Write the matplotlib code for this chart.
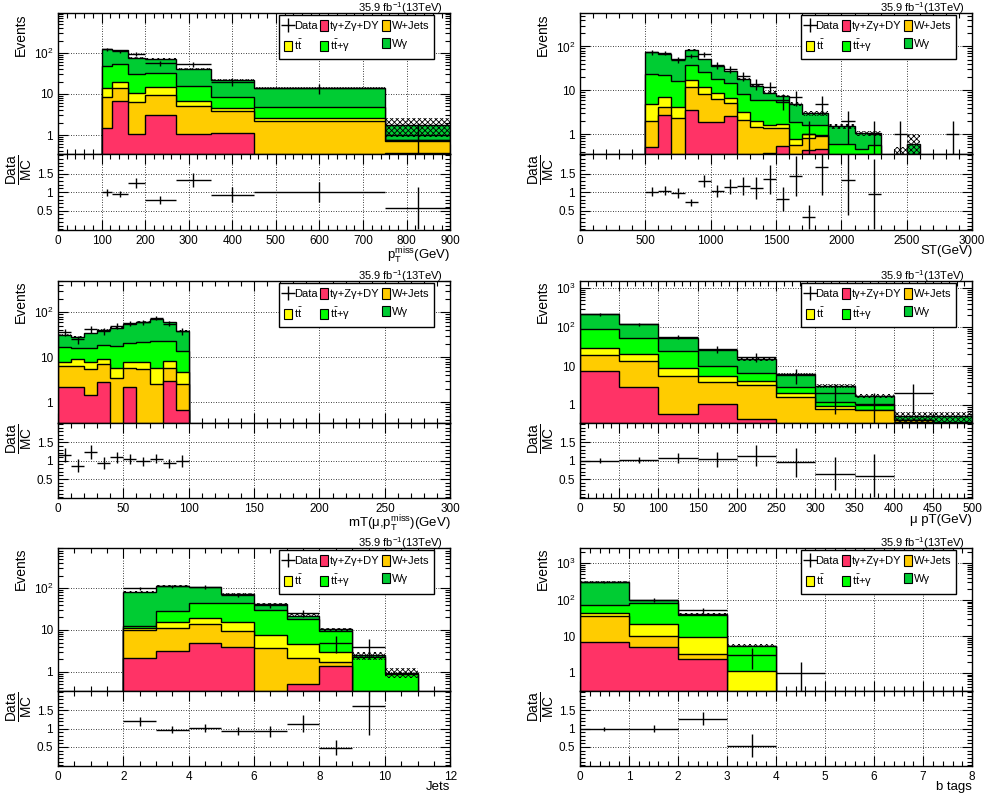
import numpy as np
import matplotlib
matplotlib.use('Agg')
import matplotlib.pyplot as plt
from matplotlib.lines import Line2D
from matplotlib.patches import Patch
from matplotlib.ticker import MultipleLocator, FixedLocator, FuncFormatter, LogLocator, NullFormatter

plt.rcParams['font.family'] = ['Liberation Sans', 'DejaVu Sans']
plt.rcParams['mathtext.fontset'] = 'custom'
plt.rcParams['mathtext.rm'] = 'Liberation Sans'
plt.rcParams['mathtext.it'] = 'Liberation Sans:italic'
plt.rcParams['mathtext.bf'] = 'Liberation Sans:bold'
plt.rcParams['hatch.linewidth'] = 0.6

# process order: bottom of stack first
proc_names = ['tγ+Zγ+DY', 'W+Jets', 't$\\bar{\\rm t}$', 't$\\bar{\\rm t}$+γ', 'Wγ']
proc_colors = ['#ff3366', '#ffcc00', '#ffff00', '#00ff00', '#00cc33']

# ---- pT miss
met_edges = [100, 125, 160, 200, 270, 350, 450, 750, 900]
met_dy = [1.5, 6.7, 1.05, 3.05, 1.05, 1.1, 0, 0.37]
met_wjets = [7.0, 7.5, 5.2, 6.5, 4.0, 2.7, 2.15, 0.36]
met_tt = [5.7, 5.5, 4.6, 5.5, 1.6, 0.7, 0.4, 0.01]
met_ttg = [33, 34, 19.5, 17, 9.4, 3.9, 2.2, 0.02]
met_wg = [77, 62, 44.7, 40, 24, 13, 9.3, 1.0]
met_data = [124, 110, 94, 57, 53, 20, 14, 1]
met_unc = [3, 3, 2.5, 2.5, 2, 1.2, 0.6, 0.85]

# ---- ST
st_edges = np.arange(500, 3100, 100)
st_dy = [0.52, 2.7, 0, 3.6, 1.85, 1.85, 2.6, 0, 0, 0.38, 0.54, 0, 0.44, 0.47,
         0, 0, 0, 0, 0, 0, 0, 0, 0, 0, 0]
st_wjets = [1.43, 1.5, 2.3, 8.6, 6.35, 4.65, 2.5, 2.1, 1.47, 0.97, 0.86, 0.57, 0.36, 0.42,
            0, 0, 0, 0, 0, 0, 0, 0, 0, 0, 0]
st_tt = [2.85, 2.9, 1.8, 5.2, 3.4, 2.1, 1.5, 1.1, 0.48, 0.28, 0.3, 0.2, 0.2, 0.08,
         0, 0, 0, 0, 0, 0, 0, 0, 0, 0, 0]
st_ttg = [19.2, 14.9, 12.4, 20.6, 13.9, 9.4, 7.7, 5.0, 4.05, 4.37, 3.6, 1.13, 0.66, 0.69,
          0.59, 0.59, 0.47, 0.56, 0, 0, 0, 0, 0, 0, 0]
st_wg = [49, 46, 34.5, 46, 25.5, 18, 12.7, 9.8, 6.6, 2.9, 2.1, 3.0, 1.34, 1.34,
         0.91, 0.91, 0.58, 0.49, 0, 0.3, 0.6, 0, 0, 0, 0]
st_data = [74, 71, 50, 61, 67, 37, 31, 21, 14, 12, 6, 7, 1, 5,
           0, 2, 0, 1, 0, 1, 0, 0, 0, 1, 0]
st_unc = [2.5, 2.5, 2, 3, 2, 1.5, 1.2, 0.8, 0.6, 0.5, 0.5, 0.4, 0.35, 0.35,
          0.2, 0.2, 0.15, 0.15, 0, 0.2, 0.4, 0, 0, 0, 0]

# ---- mT
mt_edges = np.arange(0, 110, 10)
mt_dy = [2.23, 2.15, 1.43, 2.78, 0, 2.15, 0, 0, 2.9, 0.67]
mt_wjets = [4.17, 4.25, 3.97, 4.32, 3.5, 3.65, 5.5, 2.6, 3.0, 1.83]
mt_tt = [1.6, 2.6, 2.6, 1.9, 2.2, 2.2, 2.5, 3.3, 2.4, 2.1]
mt_ttg = [8.7, 7.1, 8.0, 10.1, 12.2, 12.5, 13.5, 17.6, 15.2, 9.2]
mt_wg = [14.6, 12.7, 18, 21.4, 27.7, 33.5, 40.5, 47.5, 36.5, 24.7]
mt_data = [36, 25, 42, 38, 50, 57, 61, 75, 56, 38]
mt_unc = [1.5, 1.5, 1.5, 1.5, 1.5, 2, 2, 2, 2, 1.5]

# ---- muon pT
mupt_edges = np.arange(0, 550, 50)
mupt_dy = [7.5, 2.85, 0.575, 1.04, 0.43, 0, 0, 0, 0.37, 0]
mupt_wjets = [11.8, 10.95, 5.1, 2.96, 2.87, 1.64, 0.77, 0.74, 0.03, 0]
mupt_tt = [9.3, 6.2, 3.4, 1.6, 0.8, 0.36, 0.17, 0, 0, 0]
mupt_ttg = [59.4, 32, 15.3, 4.7, 2.4, 0.85, 0.23, 0.3, 0, 0.37]
mupt_wg = [126, 66, 27.6, 15.7, 8.4, 3.45, 1.93, 0.66, 0.12, 0.15]
mupt_data = [214, 120, 56, 27, 17, 6, 2, 1, 2, 0]
mupt_unc = [5, 3, 2, 1.2, 1.0, 0.5, 0.3, 0.2, 0.15, 0.15]

# ---- jets
jets_edges = np.arange(2, 12, 1)
jets_dy = [2.1, 3.2, 4.8, 4.0, 0, 0.52, 1.4, 0, 0]
jets_wjets = [7.9, 7.8, 8.9, 5.6, 3.6, 1.58, 0.3, 0, 0]
jets_tt = [1.0, 4.3, 5.3, 6.2, 3.8, 2.5, 1.2, 0, 0]
jets_ttg = [1.5, 13.3, 24.7, 29.2, 22.6, 13.8, 6.6, 2.3, 0.88]
jets_wg = [70.5, 85.4, 62.3, 28, 12, 3.6, 0.8, 0.15, 0.07]
jets_data = [100, 111, 108, 69, 39, 25, 5, 4, 0]
jets_unc = [3, 3, 3, 2.5, 2, 1.5, 0.8, 0.5, 0.25]

# ---- b tags
btag_edges = np.arange(0, 6, 1)
btag_dy = [7.1, 5.0, 2.37, 0, 0]
btag_wjets = [28.9, 5.1, 0.88, 0, 0]
btag_tt = [6.5, 11.6, 6.45, 1.13, 0]
btag_ttg = [29.5, 58.3, 28.6, 4.27, 0]
btag_wg = [244, 19, 2.7, 0.2, 0]
btag_data = [316, 99, 52, 3, 1]
btag_unc = [6, 3, 2, 0.4, 0]

panels = [
    dict(edges=met_edges, comps=[met_dy, met_wjets, met_tt, met_ttg, met_wg], data=met_data, unc=met_unc,
         xlim=(0, 900), ylim=(0.345, 940), xmaj=100, xmin=20, xlabel=r'$\mathrm{p_{T}^{miss}}$(GeV)'),
    dict(edges=st_edges, comps=[st_dy, st_wjets, st_tt, st_ttg, st_wg], data=st_data, unc=st_unc,
         xlim=(0, 3000), ylim=(0.353, 578), xmaj=500, xmin=100, xlabel='ST(GeV)'),
    dict(edges=mt_edges, comps=[mt_dy, mt_wjets, mt_tt, mt_ttg, mt_wg], data=mt_data, unc=mt_unc,
         xlim=(0, 300), ylim=(0.344, 500), xmaj=50, xmin=10, xlabel=r'mT(μ,$\mathrm{p_{T}^{miss}}$)(GeV)'),
    dict(edges=mupt_edges, comps=[mupt_dy, mupt_wjets, mupt_tt, mupt_ttg, mupt_wg], data=mupt_data, unc=mupt_unc,
         xlim=(0, 500), ylim=(0.344, 1540), xmaj=50, xmin=10, xlabel='μ pT(GeV)'),
    dict(edges=jets_edges, comps=[jets_dy, jets_wjets, jets_tt, jets_ttg, jets_wg], data=jets_data, unc=jets_unc,
         xlim=(0, 12), ylim=(0.344, 925), xmaj=2, xmin=0.5, xlabel='Jets'),
    dict(edges=btag_edges, comps=[btag_dy, btag_wjets, btag_tt, btag_ttg, btag_wg], data=btag_data, unc=btag_unc,
         xlim=(0, 8), ylim=(0.32, 2630), xmaj=1, xmin=0.2, xlabel='b tags'),
]

col_left = [0.0587, 0.587]
col_w = 0.397
rows = [((0.807, 0.1767), (0.7118, 0.0952)),
        ((0.4699, 0.178), (0.3759, 0.094)),
        ((0.1341, 0.1792), (0.0401, 0.094))]

log_labels = {1: '1', 10: '10', 100: '$10^{2}$', 1000: '$10^{3}$'}


def style(ax):
    ax.tick_params(which='both', direction='in', top=True, right=True, labelsize=8.5)
    ax.tick_params(which='major', length=7, width=0.8)
    ax.tick_params(which='minor', length=3.5, width=0.8)
    ax.grid(True, which='major', color='k', ls=(0, (1, 2)), lw=0.6)
    ax.set_axisbelow(True)
    for s in ax.spines.values():
        s.set_linewidth(1.0)


fig = plt.figure(figsize=(9.88, 7.98), dpi=100)

for k, p in enumerate(panels):
    (mb, mh), (rb, rh) = rows[k // 2]
    left = col_left[k % 2]
    ax = fig.add_axes([left, mb, col_w, mh])
    axr = fig.add_axes([left, rb, col_w, rh])

    edges = np.asarray(p['edges'], dtype=float)
    stack = np.cumsum(np.array(p['comps'], dtype=float), axis=0)
    total = stack[-1]
    data = np.asarray(p['data'], dtype=float)
    unc = np.asarray(p['unc'], dtype=float)
    centers = 0.5 * (edges[:-1] + edges[1:])
    half = 0.5 * np.diff(edges)

    ax.set_yscale('log')
    for i in reversed(range(len(stack))):
        ax.stairs(np.maximum(stack[i], 1e-3), edges, baseline=1e-3, fill=True,
                  facecolor=proc_colors[i], edgecolor='k', lw=1.0, zorder=1)
    has = unc > 0
    ax.stairs(np.where(has, total + unc, 1e-3), edges,
              baseline=np.where(has, np.maximum(total - unc, 1e-3), 1e-3),
              fill=True, facecolor='none', edgecolor='k', hatch='xxxxxx', lw=0, zorder=2)

    m = data > 0
    lo = np.minimum(np.sqrt(data[m]), data[m] - 1e-3)
    ax.errorbar(centers[m], data[m], xerr=half[m], yerr=[lo, np.sqrt(data[m])],
                fmt='none', ecolor='k', elinewidth=1.0, capsize=0, zorder=4)

    ax.set_xlim(*p['xlim'])
    ax.set_ylim(*p['ylim'])
    style(ax)
    ax.xaxis.set_major_locator(MultipleLocator(p['xmaj']))
    ax.xaxis.set_minor_locator(MultipleLocator(p['xmin']))
    ax.yaxis.set_major_locator(FixedLocator([1, 10, 100, 1000]))
    ax.yaxis.set_major_formatter(FuncFormatter(lambda v, pos: log_labels.get(int(round(v)), '')))
    ax.yaxis.set_minor_locator(LogLocator(base=10, subs=np.arange(2, 10)))
    ax.yaxis.set_minor_formatter(NullFormatter())
    ax.tick_params(labelbottom=False)
    ax.set_ylabel('Events', loc='top', fontsize=10, labelpad=4)
    ax.text(0.98, 1.01, '35.9 fb$^{-1}$(13TeV)', transform=ax.transAxes,
            ha='right', va='baseline', fontsize=8)

    handles = [Line2D([0], [0], color='k', marker='+', ls='none', markersize=10, mew=1.0),
               Patch(facecolor=proc_colors[2], edgecolor='k', lw=0.8),
               Patch(facecolor=proc_colors[0], edgecolor='k', lw=0.8),
               Patch(facecolor=proc_colors[3], edgecolor='k', lw=0.8),
               Patch(facecolor=proc_colors[1], edgecolor='k', lw=0.8),
               Patch(facecolor=proc_colors[4], edgecolor='k', lw=0.8)]
    labels = ['Data', proc_names[2], proc_names[0], proc_names[3], proc_names[1], proc_names[4]]
    leg = ax.legend(handles, labels, ncol=3, loc='upper left', mode='expand',
                    bbox_to_anchor=(0.564, 0.986, 0.395, 0.0), borderaxespad=0,
                    fontsize=8, frameon=True, fancybox=False, framealpha=1, edgecolor='k',
                    borderpad=0.45, handlelength=0.7, handleheight=1.1, handletextpad=0.15,
                    labelspacing=0.6, columnspacing=0.3)
    leg.get_frame().set_linewidth(1.0)
    leg.set_zorder(5)

    # ratio panel
    with np.errstate(divide='ignore', invalid='ignore'):
        ratio = np.where(total > 0, data / total, 0)
        rerr = np.where(total > 0, np.sqrt(data) / total, 0)
    rm = (data > 0) & (total > 0) & (ratio < 2.03)
    axr.errorbar(centers[rm], ratio[rm], xerr=half[rm], yerr=rerr[rm],
                 fmt='none', ecolor='k', elinewidth=1.0, capsize=0, zorder=4)
    axr.set_xlim(*p['xlim'])
    axr.set_ylim(-0.02, 2.03)
    style(axr)
    axr.xaxis.set_major_locator(MultipleLocator(p['xmaj']))
    axr.xaxis.set_minor_locator(MultipleLocator(p['xmin']))
    axr.yaxis.set_major_locator(FixedLocator([0.5, 1, 1.5]))
    axr.yaxis.set_major_formatter(FuncFormatter(lambda v, pos: {0.5: '0.5', 1.0: '1', 1.5: '1.5'}.get(round(v, 1), '')))
    axr.yaxis.set_minor_locator(MultipleLocator(0.1))
    axr.set_ylabel(r'$\frac{\mathrm{Data}}{\mathrm{MC}}$', loc='top', fontsize=14, labelpad=1)
    axr.set_xlabel(p['xlabel'], loc='right', fontsize=9.5, labelpad=-1)

fig.savefig('out.png', dpi=100)
